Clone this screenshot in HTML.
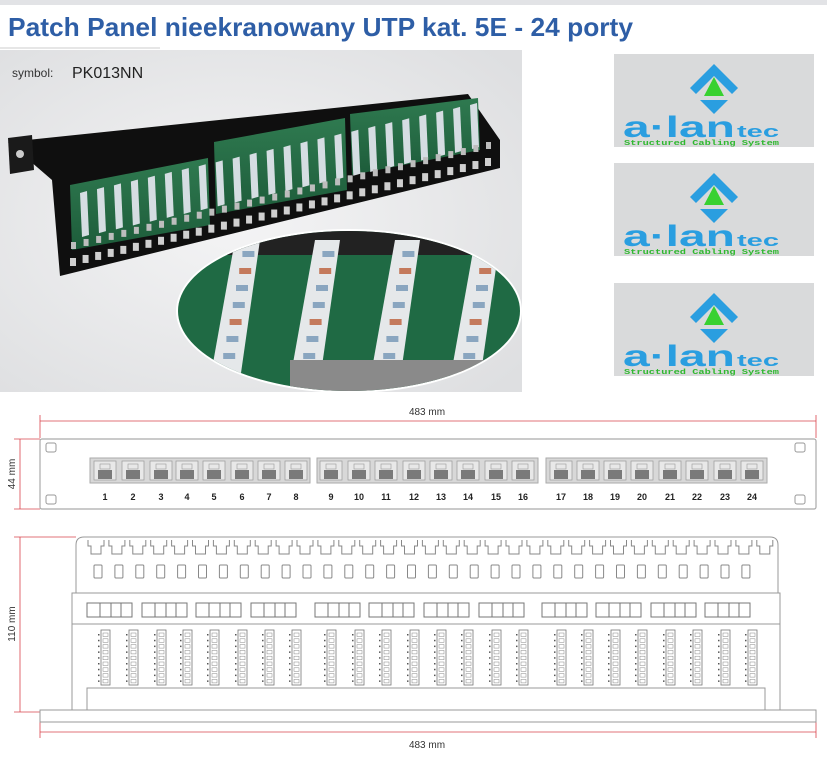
<!DOCTYPE html>
<html><head><meta charset="utf-8"><style>
html,body{margin:0;padding:0;background:#fff;}
body{width:827px;height:766px;overflow:hidden;position:relative;font-family:"Liberation Sans",sans-serif;}
svg{position:absolute;left:0;top:0;}
</style></head><body>
<svg id="s" width="827" height="766" viewBox="0 0 827 766" xmlns="http://www.w3.org/2000/svg">
<defs>
<radialGradient id="bg" cx="0.45" cy="0.5" r="0.7"><stop offset="0" stop-color="#f4f4f5"/><stop offset="1" stop-color="#dedfe1"/></radialGradient>
<linearGradient id="grn" x1="0" y1="0" x2="0" y2="1"><stop offset="0" stop-color="#2f7a50"/><stop offset="1" stop-color="#1d5c3a"/></linearGradient>
<clipPath id="ell"><ellipse cx="349" cy="311" rx="171" ry="80"/></clipPath>
</defs>
<rect x="0" y="0" width="827" height="5" fill="#e2e3e6"/>
<text x="8" y="36" font-family="Liberation Sans" font-weight="bold" font-size="26" fill="#2e5ea6" textLength="625" lengthAdjust="spacingAndGlyphs">Patch Panel nieekranowany UTP kat. 5E - 24 porty</text>
<!-- photo -->
<rect x="0" y="47" width="160" height="2" fill="#e6e6e6"/>
<rect x="0" y="50" width="522" height="342" fill="url(#bg)"/>
<text x="12" y="77" font-size="12" fill="#333">symbol:</text>
<text x="72" y="78" font-size="16" fill="#222">PK013NN</text>
<!-- black panel -->
<polygon points="8,142 468,94 500,140 500,168 60,276 52,180" fill="#0f0f0f"/>
<polygon points="8,138 32,135 34,170 10,174" fill="#1a1a1a"/>
<circle cx="20" cy="154" r="4" fill="#ccc"/>
<g id="boards"></g>
<g id="holes"></g>
<!-- zoom ellipse -->
<ellipse cx="349" cy="311" rx="173" ry="82" fill="#fff"/>
<g clip-path="url(#ell)">
<rect x="170" y="225" width="360" height="170" fill="#1f6a44"/>
<rect x="170" y="225" width="360" height="30" fill="#222"/>
<g id="zstrips"></g>
<rect x="290" y="360" width="200" height="40" fill="#8a8a8a"/>
</g>
<!-- logos -->
<g id="logos"></g>

<!-- drawing -->
<g stroke="#d9444c" stroke-width="0.8" fill="none">
<line x1="40" y1="421" x2="816" y2="421"/>
<line x1="40" y1="415" x2="40" y2="438"/><line x1="816" y1="415" x2="816" y2="438"/>
<line x1="20" y1="439" x2="20" y2="509"/>
<line x1="14" y1="439" x2="40" y2="439"/><line x1="14" y1="509" x2="40" y2="509"/>
<line x1="20" y1="537" x2="20" y2="712"/>
<line x1="14" y1="537" x2="76" y2="537"/><line x1="14" y1="712" x2="40" y2="712"/>
<line x1="40" y1="732" x2="816" y2="732"/>
<line x1="40" y1="722" x2="40" y2="738"/><line x1="816" y1="722" x2="816" y2="738"/>
</g>
<text x="427" y="415" font-size="10" fill="#333" text-anchor="middle">483 mm</text>
<text x="427" y="748" font-size="10" fill="#333" text-anchor="middle">483 mm</text>
<text transform="translate(15,474) rotate(-90)" font-size="10" fill="#333" text-anchor="middle">44 mm</text>
<text transform="translate(15,624) rotate(-90)" font-size="10" fill="#333" text-anchor="middle">110 mm</text>
<rect x="40" y="439" width="776" height="70" rx="2" fill="#fff" stroke="#aaa" stroke-width="1.2"/>
<g fill="none" stroke="#999">
<rect x="46" y="443" width="10" height="9" rx="2"/><rect x="46" y="495" width="10" height="9" rx="2"/>
<rect x="795" y="443" width="10" height="9" rx="2"/><rect x="795" y="495" width="10" height="9" rx="2"/>
</g>
<g id="ports"></g>
<g font-size="9" fill="#222" text-anchor="middle" font-weight="bold">
<text x="105" y="500">1</text><text x="133" y="500">2</text><text x="161" y="500">3</text><text x="187" y="500">4</text><text x="214" y="500">5</text><text x="242" y="500">6</text><text x="269" y="500">7</text><text x="296" y="500">8</text>
<text x="331" y="500">9</text><text x="359" y="500">10</text><text x="386" y="500">11</text><text x="414" y="500">12</text><text x="441" y="500">13</text><text x="468" y="500">14</text><text x="496" y="500">15</text><text x="523" y="500">16</text>
<text x="561" y="500">17</text><text x="588" y="500">18</text><text x="615" y="500">19</text><text x="642" y="500">20</text><text x="670" y="500">21</text><text x="697" y="500">22</text><text x="725" y="500">23</text><text x="752" y="500">24</text>
</g>
<!-- back view -->
<g fill="#fff" stroke="#999" stroke-width="1">
<path d="M76,593 L76,545 Q76,537 84,537 L770,537 Q778,537 778,545 L778,593 Z"/>
<rect x="72" y="593" width="708" height="31"/>
<rect x="72" y="624" width="708" height="86"/>
<rect x="87" y="688" width="678" height="22"/>
<rect x="40" y="710" width="776" height="12"/>
</g>
<g id="back"></g>
</svg>
<script>
var NS="http://www.w3.org/2000/svg";
function el(p,t,a){var e=document.createElementNS(NS,t);for(var k in a)e.setAttribute(k,a[k]);p.appendChild(e);return e;}
var g=document.getElementById('ports');
var px=[105,133,161,187,214,242,269,296,331,359,386,414,441,468,496,523,561,588,615,642,670,697,725,752];
[[90,310],[317,538],[546,767]].forEach(function(r){el(g,'rect',{x:r[0],y:458,width:r[1]-r[0],height:25,fill:'#d8d8d8',stroke:'#aaa'});});
px.forEach(function(x){el(g,'rect',{x:x-11,y:461,width:22,height:19,fill:'#e8e8e8',stroke:'#999','stroke-width':0.7});el(g,'rect',{x:x-7,y:470,width:14,height:9,fill:'#7a7a7a'});el(g,'rect',{x:x-5,y:464,width:10,height:5,fill:'none',stroke:'#999','stroke-width':0.6});});
var b=document.getElementById('back');
for(var i=0;i<33;i++){var x=88+i*20.9;el(b,'path',{d:'M'+x+',540 v6 h3 v8 h10 v-8 h3 v-6',fill:'none',stroke:'#888','stroke-width':1});}
for(var i=0;i<32;i++){var x=94+i*20.9;el(b,'rect',{x:x,y:565,width:8,height:13,rx:1,fill:'#fff',stroke:'#888'});}
var gx=[87,142,196,251,315,369,424,479,542,596,651,705];
gx.forEach(function(x){el(b,'rect',{x:x,y:603,width:45,height:14,fill:'#fff',stroke:'#777'});el(b,'line',{x1:x+13,y1:603,x2:x+13,y2:617,stroke:'#777'});el(b,'line',{x1:x+24,y1:603,x2:x+24,y2:617,stroke:'#777'});el(b,'line',{x1:x+34,y1:603,x2:x+34,y2:617,stroke:'#777'});});
px.forEach(function(x){el(b,'rect',{x:x-4,y:630,width:9,height:55,fill:'#fff',stroke:'#777','stroke-width':0.8});for(var j=0;j<9;j++){el(b,'rect',{x:x-2,y:633+j*5.8,width:5,height:3.5,fill:'none',stroke:'#888','stroke-width':0.5});el(b,'rect',{x:x-7,y:634+j*5.8,width:1.5,height:1.5,fill:'#555'});}});
// photo boards
var bd=document.getElementById('boards');
[[[70,185],[208,158],[210,225],[72,250]],[[214,142],[345,118],[347,190],[216,214]],[[350,114],[478,98],[480,150],[352,175]]].forEach(function(q){el(bd,'polygon',{points:q.map(function(p){return p.join(',')}).join(' '),fill:'url(#grn)'});});
for(var i=0;i<24;i++){var t=i/23;var x=80+t*390;var y=193-t*88;el(bd,'polygon',{points:(x)+','+(y)+' '+(x+7)+','+(y-2)+' '+(x+9)+','+(y+42)+' '+(x+2)+','+(y+44),fill:'#d5dde2'});}
var hl=document.getElementById('holes');
for(var i=0;i<34;i++){var t=i/33;var x=70+t*415;var y=262-t*100;el(hl,'rect',{x:x,y:y-4,width:6,height:8,fill:'#cfcfcf'});el(hl,'rect',{x:x+1,y:y-20,width:5,height:7,fill:'#bdbdbd'});}
var zs=document.getElementById('zstrips');
for(var i=0;i<5;i++){var x=200+i*80;el(zs,'polygon',{points:(x+10)+',380 '+(x+40)+',380 '+(x+60)+',240 '+(x+35)+',240',fill:'#e5e8ea'});for(var j=0;j<8;j++){el(zs,'rect',{x:x+20+j*3.2,y:370-j*17,width:12,height:6,fill:j%3==0?'#c47a5c':'#8aa6c0'});}}
// logos
var lg=document.getElementById('logos');
[[614,54],[614,163],[614,283]].forEach(function(p){var x=p[0],y=p[1];
el(lg,'rect',{x:x,y:y,width:200,height:93,fill:'#d9dadb'});
var cx=x+100;
el(lg,'path',{d:'M'+(cx-24)+','+(y+34)+' L'+cx+','+(y+10)+' L'+(cx+24)+','+(y+34)+' L'+(cx+18)+','+(y+40)+' L'+cx+','+(y+22)+' L'+(cx-18)+','+(y+40)+' Z',fill:'#2a9ee0'});
el(lg,'polygon',{points:cx+','+(y+23)+' '+(cx-10)+','+(y+42)+' '+(cx+10)+','+(y+42),fill:'#38d130'});
el(lg,'polygon',{points:(cx-14)+','+(y+46)+' '+(cx+14)+','+(y+46)+' '+cx+','+(y+60),fill:'#2a9ee0'});
var t=el(lg,'text',{x:x+9,y:y+83,'font-size':30,'font-weight':'bold',fill:'#2a9ee0','font-family':'Liberation Sans','textLength':112,'lengthAdjust':'spacingAndGlyphs'});t.textContent='a·lan';
var t2=el(lg,'text',{x:x+123,y:y+83,'font-size':17,'font-weight':'bold',fill:'#2a9ee0','font-family':'Liberation Sans','textLength':42,'lengthAdjust':'spacingAndGlyphs'});t2.textContent='tec';
var t3=el(lg,'text',{x:x+10,y:y+91,'font-size':7,fill:'#2fb82f','font-family':'Liberation Mono','font-weight':'bold','textLength':155,'lengthAdjust':'spacingAndGlyphs'});t3.textContent='Structured Cabling System';
});
</script>
</body></html>
